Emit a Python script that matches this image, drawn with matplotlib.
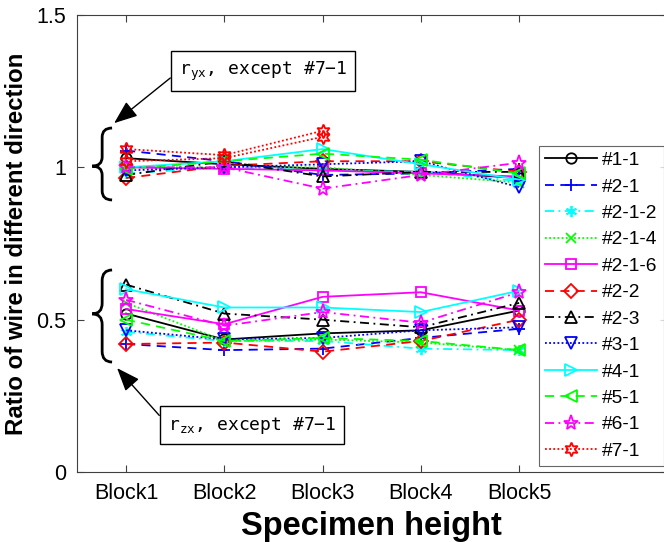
import matplotlib
matplotlib.use("Agg")
import matplotlib.pyplot as plt
from matplotlib.path import Path
from matplotlib.patches import PathPatch

plt.rcParams['font.family'] = ['Liberation Sans', 'DejaVu Sans']
plt.rcParams['mathtext.fontset'] = 'dejavusans'

blocks = ['Block1', 'Block2', 'Block3', 'Block4', 'Block5']
specimens = ['#1-1', '#2-1', '#2-1-2', '#2-1-4', '#2-1-6', '#2-2', '#2-3',
             '#3-1', '#4-1', '#5-1', '#6-1', '#7-1']

# ratio r_yx (upper group)
ryx_1_1 = [1.03, 1.01, 0.995, 0.985, 0.965]
ryx_2_1 = [1.055, 1.02, 0.975, 0.98, 0.995]
ryx_2_1_2 = [0.98, 1.0, 0.99, 0.985, 0.955]
ryx_2_1_4 = [1.0, 1.0, 1.0, 0.975, 0.95]
ryx_2_1_6 = [1.0, 0.995, 0.99, 0.98, 0.97]
ryx_2_2 = [0.965, 1.005, 1.02, 1.02, 0.985]
ryx_2_3 = [0.975, 1.02, 0.97, 0.985, 0.985]
ryx_3_1 = [0.99, 1.0, 1.01, 1.02, 0.935]
ryx_4_1 = [1.0, 1.02, 1.06, 1.01, 0.96]
ryx_5_1 = [0.995, 1.02, 1.045, 1.025, 0.98]
ryx_6_1 = [1.0, 1.0, 0.93, 0.975, 1.015]
ryx_7_1 = [1.06, 1.04, 1.12]

# ratio r_zx (lower group)
rzx_1_1 = [0.52, 0.435, 0.455, 0.465, 0.53]
rzx_2_1 = [0.42, 0.40, 0.405, 0.44, 0.47]
rzx_2_1_2 = [0.46, 0.43, 0.43, 0.405, 0.40]
rzx_2_1_4 = [0.555, 0.43, 0.435, 0.425, 0.40]
rzx_2_1_6 = [0.535, 0.485, 0.575, 0.59, 0.53]
rzx_2_2 = [0.42, 0.425, 0.395, 0.43, 0.50]
rzx_2_3 = [0.615, 0.52, 0.50, 0.475, 0.555]
rzx_3_1 = [0.465, 0.435, 0.44, 0.465, 0.475]
rzx_4_1 = [0.60, 0.54, 0.54, 0.525, 0.595]
rzx_5_1 = [0.50, 0.43, 0.44, 0.43, 0.40]
rzx_6_1 = [0.565, 0.48, 0.525, 0.49, 0.59]
rzx_7_1 = [1.02, 1.03, 1.10]

ryx = [ryx_1_1, ryx_2_1, ryx_2_1_2, ryx_2_1_4, ryx_2_1_6, ryx_2_2, ryx_2_3,
       ryx_3_1, ryx_4_1, ryx_5_1, ryx_6_1, ryx_7_1]
rzx = [rzx_1_1, rzx_2_1, rzx_2_1_2, rzx_2_1_4, rzx_2_1_6, rzx_2_2, rzx_2_3,
       rzx_3_1, rzx_4_1, rzx_5_1, rzx_6_1, rzx_7_1]

K, B, C, G, M, R = '#000000', '#0000ff', '#00ffff', '#00ff00', '#ff00ff', '#ff0000'
DASH = (0, (5, 3.5))
DOT = (0, (1, 1.3))
DASHDOT = (0, (5, 2.5, 1, 2.5))
styles = [
    (K, '-', 'o'),
    (B, DASH, '+'),
    (C, DASHDOT, (6, 2, 0)),
    (G, DOT, 'x'),
    (M, '-', 's'),
    (R, DASH, 'D'),
    (K, DASHDOT, '^'),
    (B, DOT, 'v'),
    (C, '-', '>'),
    (G, DASH, '<'),
    (M, DASHDOT, '*'),
    (R, DOT, (6, 1, 0)),
]
msizes = [7.5, 8.5, 8, 6.5, 6.5, 7, 8, 8, 8, 8, 11, 10]

fig = plt.figure(figsize=(6.64, 5.42), dpi=100)
ax = fig.add_axes([77/664, 1-472/542, 589.5/664, 457/542])

handles = []
for i, name in enumerate(specimens):
    c, ls, mk = styles[i]
    x = list(range(1, len(ryx[i]) + 1))
    h, = ax.plot(x, ryx[i], color=c, linestyle=ls, marker=mk, markersize=msizes[i],
                 markerfacecolor='none', markeredgecolor=c, markeredgewidth=1.3,
                 linewidth=1.3, label=name)
    handles.append(h)
for i, name in enumerate(specimens):
    c, ls, mk = styles[i]
    x = list(range(1, len(rzx[i]) + 1))
    ax.plot(x, rzx[i], color=c, linestyle=ls, marker=mk, markersize=msizes[i],
            markerfacecolor='none', markeredgecolor=c, markeredgewidth=1.3,
            linewidth=1.3)

ax.set_xlim(0.5, 6.5)
ax.set_ylim(0, 1.5)
ax.set_xticks(range(1, len(blocks) + 1))
ax.set_xticklabels(blocks)
ax.set_yticks([0, 0.5, 1, 1.5])
ax.set_yticklabels(['0', '0.5', '1', '1.5'])
ax.tick_params(direction='in', length=5, width=0.8, color='#404040',
               labelsize=15.5, top=True, right=True, pad=8)
for s in ax.spines.values():
    s.set_color('#404040')
    s.set_linewidth(0.8)

ax.set_xlabel('Specimen height', fontsize=23.5, fontweight='bold', labelpad=5)
ax.set_ylabel('Ratio of wire in different direction', fontsize=17.3,
              fontweight='bold', labelpad=6)

def brace(ax, x_tip, x_body, x_end, y_bot, y_mid, y_top, d):
    verts = [(x_end, y_top), (x_body, y_top), (x_body, y_top - d),
             (x_body, y_mid + d),
             (x_body, y_mid), (x_tip, y_mid),
             (x_body, y_mid), (x_body, y_mid - d),
             (x_body, y_bot + d),
             (x_body, y_bot), (x_end, y_bot)]
    codes = [Path.MOVETO, Path.CURVE3, Path.CURVE3, Path.LINETO,
             Path.CURVE3, Path.CURVE3, Path.CURVE3, Path.CURVE3,
             Path.LINETO, Path.CURVE3, Path.CURVE3]
    ax.add_patch(PathPatch(Path(verts, codes), facecolor='none',
                           edgecolor='black', linewidth=2, clip_on=False))

brace(ax, 0.654, 0.756, 0.857, 0.893, 1.004, 1.129, 0.03)
brace(ax, 0.654, 0.756, 0.857, 0.361, 0.519, 0.663, 0.035)

arrow = dict(arrowstyle='-|>,head_length=0.9,head_width=0.35', color='black',
             lw=1.0, mutation_scale=16, relpos=(0, 0.5), shrinkA=0, shrinkB=0)
box = dict(boxstyle='square,pad=0.45', facecolor='white', edgecolor='black', lw=1.0)
ax.annotate(r'r$_{\mathtt{yx}}$, except #7−1', xy=(0.878, 1.145), xytext=(2.394, 1.316),
            fontsize=13, family='DejaVu Sans Mono', ha='center', va='center',
            bbox=box, arrowprops=arrow, annotation_clip=False)
ax.annotate(r'r$_{\mathtt{zx}}$, except #7−1', xy=(0.908, 0.341), xytext=(2.282, 0.154),
            fontsize=13, family='DejaVu Sans Mono', ha='center', va='center',
            bbox=box, arrowprops=arrow, annotation_clip=False)

leg = ax.legend(handles=handles, loc='upper left',
                bbox_to_anchor=(539/664, 1-146/542), bbox_transform=fig.transFigure,
                fontsize=13.8, frameon=True, fancybox=False, edgecolor='#404040',
                handlelength=2.75, handletextpad=0.25, labelspacing=0.47,
                borderpad=0.3, borderaxespad=0)
leg.get_frame().set_linewidth(0.8)
leg._legend_box.align = 'left'

fig.savefig('out.png', dpi=100)
